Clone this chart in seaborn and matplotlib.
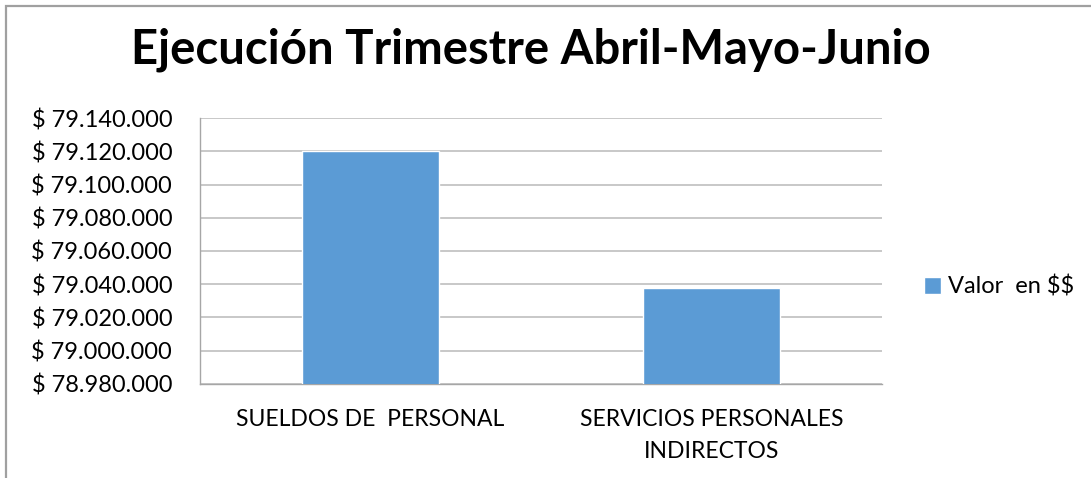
import matplotlib
matplotlib.use("Agg")
import matplotlib.pyplot as plt
import seaborn as sns
from matplotlib.ticker import FuncFormatter, MultipleLocator
from matplotlib.patches import Rectangle

# Datos
categorias = ["SUELDOS DE  PERSONAL", "SERVICIOS PERSONALES\nINDIRECTOS"]
valores = [79120000, 79038000]
serie = ["Valor  en $$", "Valor  en $$"]

sns.set_style("white")
plt.rcParams["font.family"] = ["Lato", "DejaVu Sans"]
plt.rcParams["text.parse_math"] = False  # los $ son texto normal
plt.rcParams["text.color"] = "black"
plt.rcParams["xtick.labelcolor"] = "black"
plt.rcParams["ytick.labelcolor"] = "black"

fig = plt.figure(figsize=(10.91, 4.78), dpi=100)
ax = fig.add_axes([0.1833, 0.1967, 0.8084 - 0.1833, 0.7531 - 0.1967])

sns.barplot(x=categorias, y=valores, hue=serie, palette=["#5B9BD5"],
            saturation=1, width=0.4, ax=ax, zorder=3)

ax.set_ylim(78980000, 79140000)
ax.yaxis.set_major_locator(MultipleLocator(20000))
ax.yaxis.set_major_formatter(FuncFormatter(lambda v, p: f"$ {v:,.0f}".replace(",", ".")))
ax.set_xlim(-0.5, 1.5)
ax.set_xticks([0, 1])
ax.set_xticklabels(categorias, fontsize=16.5, linespacing=1.65)
ax.set_xticks([-0.5, 0.5, 1.5], minor=True)
ax.tick_params(axis="x", which="major", length=0, pad=18)
ax.tick_params(axis="x", which="minor", length=5, color="#A6A6A6", width=1)
ax.tick_params(axis="y", length=8, color="#A6A6A6", width=1, labelsize=17, pad=12)

ax.grid(axis="y", color="#BFBFBF", linewidth=1.2, zorder=0)
for s in ["top", "right"]:
    ax.spines[s].set_visible(False)
for s in ["left", "bottom"]:
    ax.spines[s].set_color("#A6A6A6")
    ax.spines[s].set_linewidth(1)
ax.set_xlabel("")
ax.set_ylabel("")

ax.legend(loc="center left", bbox_to_anchor=(1.03, 0.365), frameon=False,
          fontsize=17, handlelength=0.75, handleheight=0.75, handletextpad=0.3)

fig.suptitle("Ejecución Trimestre Abril-Mayo-Junio", fontsize=34, fontweight="bold",
             x=0.487, y=0.943)

# borde del grafico
fig.patches.append(Rectangle((5.5 / 1091, -0.1), 1.2, 1.1 - 6 / 478,
                             transform=fig.transFigure, fill=False,
                             edgecolor="#A0A0A0", linewidth=1.6, clip_on=False))

fig.savefig("out.png", dpi=100)
